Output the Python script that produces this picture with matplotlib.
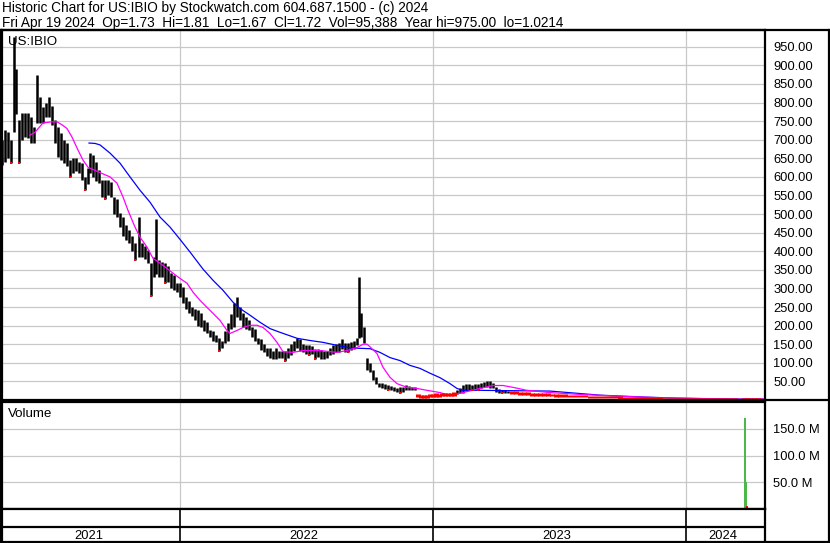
import numpy as np
import matplotlib.pyplot as plt
from matplotlib.lines import Line2D

plt.rcParams['font.family'] = ['Liberation Sans', 'DejaVu Sans']

# HARDCODES; x is in trading-day units (about 1 px per day)
bar_day = [2, 5, 8, 11, 14, 16, 19, 22, 25, 28, 31, 34, 37, 40, 43, 46, 49, 52, 55, 58,
           61, 64, 67, 70, 73, 76, 79, 82, 85, 88, 90, 93, 96, 99, 102, 105, 108, 111, 114, 117,
           120, 123, 126, 129, 132, 135, 139, 142, 145, 148, 151, 154, 156, 159, 162, 165, 168, 171, 174, 177,
           180, 183, 186, 189, 192, 195, 198, 201, 204, 207, 210, 213, 216, 219, 222, 225, 228, 231, 234, 237,
           240, 243, 246, 249, 252, 255, 258, 261, 264, 267, 270, 273, 276, 279, 282, 285, 288, 291, 294, 297,
           300, 303, 306, 309, 312, 315, 318, 321, 324, 327, 330, 333, 336, 339, 342, 345, 348, 351, 354, 357,
           359, 361, 364, 367, 370, 373, 376, 379, 382, 385, 388, 391, 394, 397, 400, 403, 406, 409, 412, 415,
           418, 421, 424, 427, 430, 433, 436, 439, 442, 445, 448, 451, 454, 457, 460, 463, 466, 469, 472, 475,
           478, 481, 484, 487, 490, 493, 496, 499, 502, 505, 508, 512, 516, 520, 524, 528, 532, 536, 540, 544,
           548, 552, 556, 560, 565, 570, 575, 580, 585, 590, 595, 600, 605, 610, 615, 620, 625, 630, 635, 640,
           645, 650, 655, 660, 665, 670, 675, 680, 685, 690, 695, 700, 705, 710, 715, 720, 725, 730, 735, 740,
           744, 747, 750, 754, 758, 762]
bar_lo = [632, 640, 650, 637, 720, 770, 637, 700, 707, 705, 691, 691, 745, 745, 745, 760, 760, 740, 690, 653,
          645, 637, 630, 600, 610, 615, 610, 591, 564, 580, 610, 600, 590, 583, 546, 540, 550, 545, 500, 492,
          465, 440, 430, 421, 400, 376, 384, 384, 380, 368, 279, 330, 340, 330, 330, 314, 318, 300, 295, 290,
          276, 260, 245, 233, 225, 214, 200, 195, 185, 179, 170, 160, 155, 133, 141, 152, 160, 190, 195, 222,
          214, 195, 190, 187, 170, 160, 150, 135, 130, 118, 114, 111, 111, 114, 114, 106, 114, 120, 133, 140,
          133, 130, 125, 120, 125, 111, 115, 111, 111, 114, 120, 125, 128, 128, 138, 130, 128, 135, 138, 147,
          168, 170, 152, 80, 75, 55, 44, 35, 31, 30, 26, 28, 25, 22, 20, 22, 26, 28, 26, 26,
          8, 6, 5, 6, 7, 8, 9, 8, 10, 11, 10, 11, 12, 16, 18, 18, 25, 28, 26, 30,
          28, 32, 34, 35, 33, 31, 22, 20, 18, 19, 18, 16, 15, 14, 13, 14, 12, 12, 12, 11,
          11, 10, 9, 9, 8, 8, 8, 7, 7, 6, 6, 6, 5, 5, 5, 4, 4, 4, 3.5, 3.5,
          3, 3, 3, 2.8, 2.5, 2.5, 2.5, 2.3, 2.2, 2, 2, 2, 1.8, 1.8, 1.6, 1.5, 1.4, 1.3, 1.2, 1.1,
          1.02, 1.5, 1.8, 1.7, 1.6, 1.67]
bar_hi = [700, 725, 720, 700, 975, 890, 753, 772, 772, 772, 760, 734, 874, 815, 788, 800, 815, 790, 753, 734,
          718, 700, 690, 645, 650, 650, 640, 637, 600, 625, 664, 660, 640, 618, 591, 591, 591, 585, 546, 540,
          502, 492, 470, 456, 440, 421, 492, 421, 415, 403, 368, 384, 486, 376, 370, 368, 360, 341, 335, 314,
          314, 303, 276, 265, 249, 245, 241, 235, 214, 210, 187, 185, 175, 168, 160, 185, 206, 230, 260, 276,
          249, 233, 222, 215, 195, 190, 168, 165, 150, 141, 141, 133, 141, 133, 133, 133, 141, 150, 160, 168,
          165, 150, 147, 147, 145, 138, 138, 135, 133, 133, 140, 147, 150, 152, 165, 152, 152, 155, 160, 168,
          330, 235, 195, 114, 100, 80, 61, 47, 45, 44, 40, 38, 34, 32, 34, 34, 39, 38, 36, 34,
          14, 12, 11, 12, 13, 15, 16, 14, 17, 18, 16, 17, 19, 28, 31, 39, 42, 44, 40, 44,
          42, 47, 48, 52, 50, 45, 34, 30, 26, 26, 25, 22, 21, 20, 19, 19, 18, 17, 17, 16,
          16, 15, 14, 13, 13, 12, 12, 11, 11, 10, 10, 9, 9, 8, 8, 8, 7, 7, 6, 6,
          6, 5.5, 5, 5, 4.5, 4.5, 4, 4, 3.8, 3.5, 3.5, 3.3, 3, 3, 2.8, 2.6, 2.5, 2.3, 2.2, 2,
          2.5, 4.5, 3.5, 3, 2.4, 1.81]

# short (magenta) and long (blue) moving averages as drawn
ma1_day = [30, 35, 43, 52, 57, 62, 67, 72, 78, 83, 88, 97, 110, 117, 123, 128, 135, 140, 147, 153,
           163, 173, 180, 187, 193, 200, 207, 213, 220, 227, 230, 237, 243, 250, 257, 263, 270, 277, 283, 293,
           303, 320, 337, 347, 353, 357, 363, 367, 370, 377, 383, 390, 397, 407, 417, 427, 440, 450, 463, 480,
           493, 503, 513, 527, 550, 580, 620, 660, 700, 740, 764]
ma1_val = [712, 720, 745, 748, 748, 740, 730, 707, 672, 645, 626, 615, 600, 583, 546, 510, 465, 438, 411, 381,
           362, 341, 327, 314, 290, 268, 249, 233, 214, 187, 179, 187, 195, 201, 201, 195, 179, 155, 130, 128,
           133, 133, 128, 133, 138, 141, 150, 150, 143, 125, 88, 61, 44, 34, 31, 26, 20, 12, 20, 31,
           39, 39, 34, 26, 20, 15, 10, 6, 4, 2.5, 3]
ma2_day = [89, 95, 100, 110, 120, 130, 140, 150, 160, 170, 180, 190, 203, 213, 223, 233, 240, 250, 260, 270,
           280, 297, 310, 323, 337, 350, 370, 380, 390, 400, 410, 420, 430, 440, 450, 457, 463, 480, 513, 550,
           600, 643, 677, 727, 764]
ma2_val = [691, 690, 686, 664, 637, 600, 564, 532, 492, 465, 432, 398, 352, 322, 295, 263, 246, 228, 209, 192,
           182, 166, 160, 155, 147, 140, 138, 128, 114, 106, 93, 85, 72, 60, 44, 31, 26, 26, 25, 24,
           13, 8, 5, 2.5, 2]

vol_day = [465, 666, 745, 746, 747]
vol_val = [2.0e6, 1.0e6, 170e6, 50e6, 5e6]
vol_col = ['#4cb84c', 'red', '#4cb84c', '#4cb84c', 'red']

year_edges = [180, 432.5, 685.5]
year_labels = ['2021', '2022', '2023', '2024']

header1 = 'Historic Chart for US:IBIO by Stockwatch.com 604.687.1500 - (c) 2024'
header2 = ('Fri Apr 19 2024  Op=1.73  Hi=1.81  Lo=1.67  Cl=1.72  Vol=95,388  '
           'Year hi=975.00  lo=1.0214')

W, H = 830, 543
grid_c = '#c8c8c8'


def box(x0, y0, x1, y1):
    # pixel box (top-left origin) -> figure rect
    return [x0 / W, 1 - y1 / H, (x1 - x0) / W, (y1 - y0) / H]


fig = plt.figure(figsize=(W / 100, H / 100), dpi=100)
ax = fig.add_axes(box(2, 30, 765, 400))
axv = fig.add_axes(box(2, 402, 765, 509))
axy = fig.add_axes(box(2, 509, 765, 543))

# price panel
for a in (ax, axv, axy):
    a.set_xlim(2, 765)
    a.set_xticks(year_edges)
    a.tick_params(axis='x', length=0, labelbottom=False)
    for s in a.spines.values():
        s.set_linewidth(1.6)
        s.set_color('black')

ax.set_ylim(0, 995)
ax.set_yticks(np.arange(50, 1000, 50))
ax.set_yticklabels(['%.2f' % v for v in np.arange(50, 1000, 50)])
ax.yaxis.tick_right()
ax.tick_params(axis='y', length=0, pad=6, labelsize=9.3)
ax.grid(True, color=grid_c, lw=0.9)
ax.set_axisbelow(True)

bar_day = np.array(bar_day)
bar_lo = np.array(bar_lo, dtype=float)
bar_hi = np.array(bar_hi, dtype=float)
low_px = bar_hi < 25
ax.vlines(bar_day[~low_px], bar_lo[~low_px], bar_hi[~low_px], colors='black', lw=1.8)
ax.plot(ma2_day, ma2_val, color='#0000ff', lw=0.9)
ax.plot(ma1_day, ma1_val, color='#ff00ff', lw=0.9)
ax.vlines(bar_day[low_px], bar_lo[low_px], bar_hi[low_px] + 2, colors='red', lw=3.6)
# red ticks at local lows
dips = [i for i in range(1, len(bar_lo) - 1)
        if bar_lo[i] < bar_lo[i - 1] and bar_lo[i] < bar_lo[i + 1] and not low_px[i]]
ax.plot(bar_day[dips], bar_lo[dips], 's', color='red', ms=1.6, mew=0)
ax.text(8, 962, 'US:IBIO', fontsize=9.6, va='center', ha='left')

# volume panel
axv.set_ylim(0, 200e6)
axv.set_yticks([50e6, 100e6, 150e6])
axv.set_yticklabels(['50.0 M', '100.0 M', '150.0 M'])
axv.yaxis.tick_right()
axv.tick_params(axis='y', length=0, pad=6, labelsize=9.3)
axv.grid(True, color=grid_c, lw=0.9)
axv.set_axisbelow(True)
axv.bar(vol_day, vol_val, width=1.6, color=vol_col)
axv.text(8, 178e6, 'Volume', fontsize=9.6, va='center', ha='left')

# year band
axy.set_ylim(0, 1)
axy.set_yticks([])
axy.axhline(16 / 34, color='black', lw=1.6)
axy.vlines(year_edges, 0, 1, colors='black', lw=1.2)
edges = [2] + year_edges + [765]
for i, lab in enumerate(year_labels):
    axy.text((edges[i] + edges[i + 1]) / 2 - 2, 0.22, lab, fontsize=9.3, ha='center', va='center')


# frame lines drawn in pixel coords
def fline(x0, y0, x1, y1, lw=1.6):
    fig.add_artist(Line2D([x0 / W, x1 / W], [1 - y0 / H, 1 - y1 / H], color='black', lw=lw,
                          transform=fig.transFigure))


fline(0, 30, 830, 30)
fline(765, 400, 829, 400)
fline(828.5, 30, 828.5, 543)
fline(0, 542.3, 830, 542.3)
fline(1, 30, 1, 543)

fig.text(2 / W, 1 - 8 / H, header1, fontsize=9.8, va='center', ha='left')
fig.text(2 / W, 1 - 23 / H, header2, fontsize=9.8, va='center', ha='left')

fig.savefig('out.png', dpi=100)
